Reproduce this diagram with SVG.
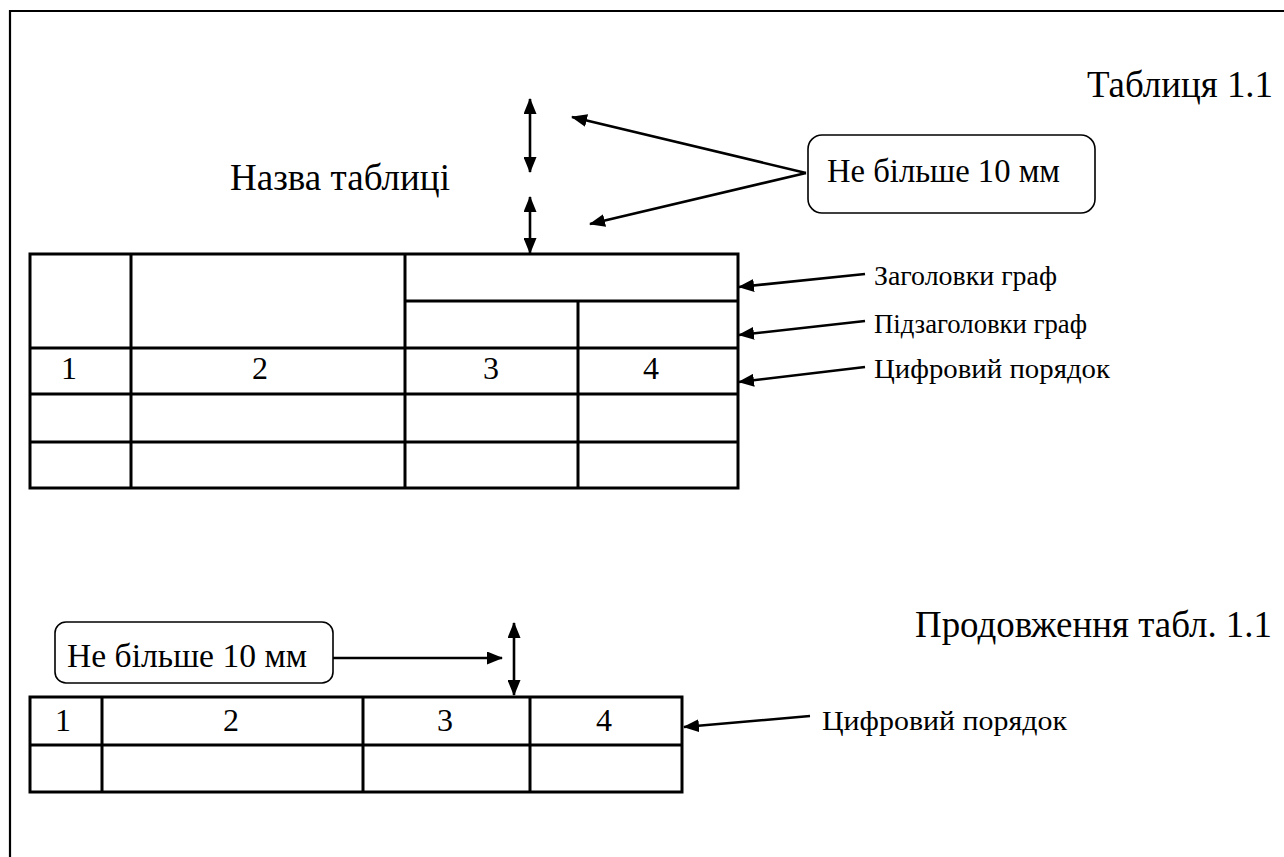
<svg xmlns="http://www.w3.org/2000/svg" width="1284" height="857" viewBox="0 0 1284 857">
<defs>
<marker id="ah" viewBox="0 0 16 13" refX="15" refY="6.5" markerWidth="16" markerHeight="13" markerUnits="userSpaceOnUse" orient="auto-start-reverse">
<path d="M0,0 L16,6.5 L0,13 z" fill="#000"/>
</marker>
</defs>
<style>
text{font-family:"Liberation Serif","Times New Roman",serif;fill:#000}
.big{font-size:37px}
.num{font-size:32px;text-anchor:middle}
.lbl{font-size:28px}
.cal{font-size:33px}
.box{fill:#fff;stroke:#000;stroke-width:1.6}
.tb{fill:none;stroke:#000;stroke-width:3}
.conn line{stroke:#000;stroke-width:2.6}
</style>
<rect width="1284" height="857" fill="#fff"/>
<g id="frame"><path d="M10,857 L10,11 L1284,11" fill="none" stroke="#000" stroke-width="2.2"/></g>
<g id="title1"><text class="big" x="1087" y="97" textLength="186" lengthAdjust="spacingAndGlyphs">Таблиця 1.1</text></g>
<g id="name"><text class="big" x="230" y="190" textLength="220" lengthAdjust="spacingAndGlyphs">Назва таблиці</text></g>
<g id="callout1"><rect class="box" x="808" y="135" width="287" height="78" rx="14"/><text class="cal" x="827" y="182" textLength="233" lengthAdjust="spacingAndGlyphs">Не більше 10 мм</text></g>
<g id="table1">
<rect class="tb" x="30" y="254" width="708" height="234"/>
<path class="tb" d="M131,254V488M405,254V488M578,301V488M405,301H738M30,348H738M30,394H738M30,442H738"/>
<text class="num" x="69" y="379">1</text><text class="num" x="260" y="379">2</text><text class="num" x="491" y="379">3</text><text class="num" x="651" y="379">4</text>
</g>
<g id="labels1">
<text class="lbl" x="874" y="285" textLength="183" lengthAdjust="spacingAndGlyphs">Заголовки граф</text>
<text class="lbl" x="874" y="333" textLength="213" lengthAdjust="spacingAndGlyphs">Підзаголовки граф</text>
<text class="lbl" x="874" y="378" textLength="236" lengthAdjust="spacingAndGlyphs">Цифровий порядок</text>
</g>
<g id="title2"><text class="big" x="915" y="637" textLength="357" lengthAdjust="spacingAndGlyphs">Продовження табл. 1.1</text></g>
<g id="callout2"><rect class="box" x="55" y="622" width="278" height="61" rx="11"/><text class="cal" x="67" y="667" textLength="240" lengthAdjust="spacingAndGlyphs">Не більше 10 мм</text></g>
<g id="table2">
<rect class="tb" x="30" y="697" width="652" height="95"/>
<path class="tb" d="M102,697V792M363,697V792M530,697V792M30,745H682"/>
<text class="num" x="63" y="731">1</text><text class="num" x="231" y="731">2</text><text class="num" x="445" y="731">3</text><text class="num" x="604" y="731">4</text>
</g>
<g id="label2"><text class="lbl" x="822" y="730" textLength="245" lengthAdjust="spacingAndGlyphs">Цифровий порядок</text></g>
<g class="conn" id="connectors">
<line x1="530" y1="99" x2="530" y2="172" marker-start="url(#ah)" marker-end="url(#ah)"/>
<line x1="530" y1="197" x2="530" y2="253" marker-start="url(#ah)" marker-end="url(#ah)"/>
<line x1="806" y1="173" x2="572" y2="117" marker-end="url(#ah)"/>
<line x1="806" y1="173" x2="590" y2="224" marker-end="url(#ah)"/>
<line x1="865" y1="274" x2="739" y2="287" marker-end="url(#ah)"/>
<line x1="865" y1="321" x2="739" y2="335" marker-end="url(#ah)"/>
<line x1="865" y1="367" x2="739" y2="382" marker-end="url(#ah)"/>
<line x1="333" y1="658" x2="502" y2="658" marker-end="url(#ah)"/>
<line x1="514" y1="623" x2="514" y2="695" marker-start="url(#ah)" marker-end="url(#ah)"/>
<line x1="810" y1="716" x2="684" y2="727" marker-end="url(#ah)"/>
</g>
</svg>
